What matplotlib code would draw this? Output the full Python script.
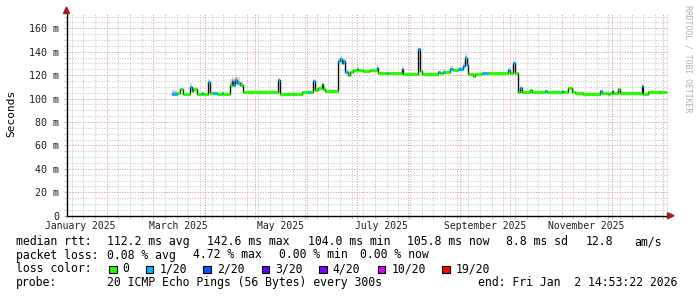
import numpy as np
import pandas as pd
import matplotlib
matplotlib.use("Agg")
import matplotlib.pyplot as plt
import matplotlib.dates as mdates
from matplotlib.patches import Rectangle, Polygon
from matplotlib.ticker import FuncFormatter, MultipleLocator

plt.rcParams['font.family'] = ['DejaVu Sans Mono']

# median rtt, one value per step (step starts at seg_start)
seg_start = [
    "2025-03-12", "2025-03-15", "2025-03-17", "2025-03-19", "2025-03-23", "2025-03-24",
    "2025-03-25", "2025-03-27", "2025-03-30", "2025-03-31", "2025-04-03", "2025-04-04",
    "2025-04-06", "2025-04-08", "2025-04-11", "2025-04-12", "2025-04-16", "2025-04-17",
    "2025-04-18", "2025-04-19", "2025-04-20", "2025-04-22", "2025-04-24", "2025-05-15",
    "2025-05-16", "2025-05-21", "2025-05-24", "2025-05-29", "2025-06-02", "2025-06-03",
    "2025-06-05", "2025-06-06", "2025-06-08", "2025-06-10", "2025-06-11", "2025-06-12",
    "2025-06-20", "2025-06-21", "2025-06-22", "2025-06-23", "2025-06-24", "2025-06-26",
    "2025-06-27", "2025-06-29", "2025-07-01", "2025-07-02", "2025-07-05", "2025-07-09",
    "2025-07-13", "2025-07-14", "2025-07-19", "2025-07-20", "2025-07-28", "2025-07-29",
    "2025-08-07", "2025-08-08", "2025-08-09", "2025-08-19", "2025-08-20", "2025-08-22",
    "2025-08-23", "2025-08-26", "2025-08-28", "2025-08-31", "2025-09-03", "2025-09-04",
    "2025-09-05", "2025-09-06", "2025-09-09", "2025-09-10", "2025-09-14", "2025-09-15",
    "2025-09-18", "2025-09-30", "2025-10-01", "2025-10-03", "2025-10-04", "2025-10-06",
    "2025-10-07", "2025-10-08", "2025-10-13", "2025-10-14", "2025-10-22", "2025-10-23",
    "2025-11-01", "2025-11-02", "2025-11-05", "2025-11-07", "2025-11-09", "2025-11-14",
    "2025-11-24", "2025-11-25", "2025-11-29", "2025-11-30", "2025-12-01", "2025-12-02",
    "2025-12-05", "2025-12-06", "2025-12-19", "2025-12-20", "2025-12-23", "2025-12-30",
]
median_ms = [
    104.3, 104.6, 107.8, 104.3, 109.5, 106.2,
    107.8, 104.3, 104.6, 104.3, 113.8, 105.0,
    104.8, 104.3, 105.2, 104.3, 111.5, 115.0,
    112.0, 116.0, 113.5, 112.0, 105.6, 115.7,
    104.3, 103.8, 104.3, 105.3, 105.5, 105.3,
    114.8, 107.5, 109.0, 112.5, 108.5, 106.6,
    132.0, 134.0, 130.5, 132.5, 122.5, 120.0,
    122.5, 124.2, 125.0, 124.2, 123.5, 124.5,
    126.5, 121.8, 122.2, 121.5, 125.0, 121.4,
    142.6, 123.5, 121.4, 122.5, 122.0, 123.0,
    122.5, 125.0, 124.5, 125.0, 128.0, 134.5,
    129.0, 121.0, 119.2, 121.0, 122.0, 122.0,
    122.0, 124.8, 122.0, 130.6, 121.5, 105.7,
    109.4, 105.7, 107.4, 105.7, 106.6, 105.7,
    106.4, 105.7, 109.4, 105.4, 104.8, 104.3,
    106.6, 104.5, 103.8, 104.8, 106.6, 104.8,
    107.8, 105.0, 110.8, 103.8, 105.4, 105.8,
]
# loss class per step: 0 -> 0 lost, 1 -> 1/20 lost
loss_idx = [
    1, 0, 0, 0, 1, 0,
    0, 0, 1, 0, 1, 0,
    1, 0, 1, 0, 0, 1,
    1, 1, 1, 0, 0, 1,
    0, 0, 0, 0, 1, 0,
    1, 0, 0, 0, 0, 0,
    1, 1, 1, 1, 1, 0,
    0, 0, 1, 0, 0, 0,
    1, 0, 1, 0, 1, 0,
    1, 0, 0, 1, 0, 1,
    0, 1, 0, 1, 1, 1,
    1, 0, 0, 0, 0, 1,
    0, 1, 0, 1, 0, 0,
    1, 0, 0, 0, 1, 0,
    1, 0, 0, 0, 0, 0,
    1, 0, 0, 0, 1, 0,
    0, 0, 1, 0, 0, 0,
]
# top of the ping "smoke" per step
smoke_top_ms = [
    107.5, 105.5, 109.0, 105.0, 113.0, 107.0,
    108.5, 105.0, 105.5, 105.0, 116.5, 106.0,
    106.0, 105.0, 106.5, 105.0, 117.0, 120.0,
    118.0, 120.5, 118.5, 115.0, 106.2, 118.0,
    105.0, 104.5, 105.0, 106.0, 106.5, 106.0,
    116.5, 108.5, 110.0, 113.5, 109.5, 107.2,
    135.5, 136.0, 134.0, 135.0, 124.0, 121.0,
    123.5, 125.0, 126.0, 125.0, 124.5, 125.5,
    128.5, 122.5, 123.0, 122.2, 127.5, 122.0,
    143.0, 124.5, 122.0, 123.5, 122.8, 124.0,
    123.2, 127.5, 125.5, 126.5, 131.0, 140.0,
    132.0, 122.0, 120.0, 121.8, 122.8, 123.0,
    122.8, 126.0, 122.8, 132.5, 122.2, 106.3,
    110.5, 106.3, 108.0, 106.3, 107.2, 106.3,
    107.0, 106.3, 110.0, 106.0, 105.4, 105.0,
    107.2, 105.2, 104.5, 105.4, 107.2, 105.4,
    108.5, 105.6, 112.5, 104.5, 106.0, 106.3,
]
data_end = "2026-01-02 14:53"

loss_labels = ["0", "1/20", "2/20", "3/20", "4/20", "10/20", "19/20"]
loss_colors = ["#26ff00", "#00b8ff", "#0059ff", "#5e00ff", "#7e00ff", "#dd00ff", "#ff0000"]

month_labels = ["January 2025", "March 2025", "May 2025",
                "July 2025", "September 2025", "November 2025"]
month_label_at = ["2025-01-16", "2025-03-16", "2025-05-16",
                  "2025-07-16", "2025-09-16", "2025-11-16"]

rtt_items = ["median rtt:", "112.2 ms avg", "142.6 ms max", "104.0 ms min",
             "105.8 ms now", "8.8 ms sd", "12.8", "am/s"]
loss_items = ["packet loss:", "0.08 % avg", "4.72 % max", "0.00 % min", "0.00 % now"]
probe_items = ["probe:", "20 ICMP Echo Pings (56 Bytes) every 300s",
               "end: Fri Jan  2 14:53:22 2026"]

W, H = 697, 297
fig = plt.figure(figsize=(W / 100, H / 100), dpi=100)
fig.patch.set_facecolor("white")


def fx(x):
    return x / W


def fy(y):
    return 1 - y / H


ax = fig.add_axes([fx(66.5), fy(215.7), fx(667.5) - fx(66.5), fy(13) - fy(215.7)])

t = mdates.date2num(pd.to_datetime(seg_start + [data_end], format="ISO8601"))
med = np.array(median_ms + [median_ms[-1]])
top = np.array(smoke_top_ms + [smoke_top_ms[-1]])

# smoke
ax.fill_between(t, med, top, step="post", color="#d8d8d8", lw=0, zorder=2)
ax.fill_between(t, med, med + (top - med) * 0.35, step="post", color="#a8a8a8", lw=0, zorder=2)
ax.fill_between(t, med - 0.6, med, step="post", color="#c8c8c8", lw=0, zorder=2)

# median line: black steps, coloured by loss on each step
ax.step(t, med, where="post", color="#101010", lw=1.0, zorder=3)
ax.hlines(median_ms, t[:-1], t[1:], colors=[loss_colors[i] for i in loss_idx],
          linewidth=2.3, zorder=4)

ax.set_xlim(mdates.date2num(pd.Timestamp("2025-01-07 21:00")),
            mdates.date2num(pd.Timestamp("2026-01-03 12:00")))
ax.set_ylim(0, 173.1)

ax.xaxis.set_major_locator(mdates.MonthLocator())
ax.xaxis.set_minor_locator(mdates.WeekdayLocator(byweekday=mdates.SA))
ax.yaxis.set_major_locator(MultipleLocator(20))
ax.yaxis.set_minor_locator(MultipleLocator(5))
ax.yaxis.set_major_formatter(FuncFormatter(lambda v, p: "0" if v == 0 else f"{v:.0f} m"))

mcol, gcol = "#e39a9a", "#c8c8c8"
ax.grid(which="major", color=mcol, lw=0.75, ls=(0, (1, 1.5)))
ax.grid(which="minor", color=gcol, lw=0.75, ls=(0, (1, 1.5)))
ax.set_axisbelow(True)

ax.tick_params(axis="x", which="both", labelbottom=False, length=2, width=0.75, color=gcol)
ax.tick_params(axis="y", which="major", length=2, width=0.75, color=mcol, pad=3.2,
               labelsize=7.2, labelcolor="#202020")
ax.tick_params(axis="y", which="minor", length=2, width=0.75, color=gcol)

for s in ["top", "right"]:
    ax.spines[s].set_visible(False)
for s in ["left", "bottom"]:
    ax.spines[s].set_color("black")
    ax.spines[s].set_linewidth(1.0)
    ax.spines[s].set_zorder(5)

for lab, d in zip(month_labels, month_label_at):
    ax.text(mdates.date2num(pd.Timestamp(d)), -10.3 / 202.7, lab,
            transform=ax.get_xaxis_transform(), ha="center", va="center",
            fontsize=7.0, color="#202020")

fig.text(fx(11), fy(113), "Seconds", rotation=90, ha="center", va="center", fontsize=8)

# axis arrows
acol = "#9c1c1c"
fig.add_artist(Polygon([(fx(63.5), fy(13.5)), (fx(69.5), fy(13.5)), (fx(66.5), fy(7))],
                       closed=True, color=acol, transform=fig.transFigure))
fig.add_artist(Polygon([(fx(667.5), fy(212.7)), (fx(667.5), fy(218.7)), (fx(674), fy(215.7))],
                       closed=True, color=acol, transform=fig.transFigure))

fig.text(fx(688), fy(5), "RRDTOOL / TOBI OETIKER", rotation=270, ha="center", va="top",
         fontsize=5.9, color="#b0b0b0")

fs = 8.3
for txt, x in zip(rtt_items, [16, 106.6, 206.6, 307.6, 406.6, 506, 586, 634.3]):
    fig.text(fx(x), fy(241.7), txt, ha="left", va="center", fontsize=fs)
for txt, x in zip(loss_items, [16, 106.6, 192.6, 278.6, 360]):
    fig.text(fx(x), fy(255), txt, ha="left", va="center", fontsize=fs)
fig.text(fx(16), fy(269), "loss color:", ha="left", va="center", fontsize=fs)
for lab, c, x in zip(loss_labels, loss_colors, [109, 145.7, 203.3, 261.7, 319.3, 377.7, 442.3]):
    fig.add_artist(Rectangle((fx(x), fy(273.3)), fx(7.5), fy(265.8) - fy(273.3),
                             facecolor=c, edgecolor="black", lw=0.8, transform=fig.transFigure))
    fig.text(fx(x + 13.6), fy(269), lab, ha="left", va="center", fontsize=fs)
for txt, x in zip(probe_items, [16, 106.6, 477.6]):
    fig.text(fx(x), fy(282.7), txt, ha="left", va="center", fontsize=fs)

fig.savefig("out.png", dpi=100, facecolor="white")
